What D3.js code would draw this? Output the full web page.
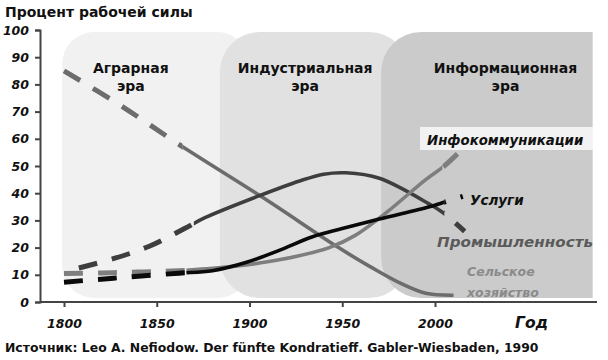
<!DOCTYPE html>
<html>
<head>
<meta charset="utf-8">
<script src="https://cdn.jsdelivr.net/npm/d3@7"></script>
<style>
  body { margin: 0; background: #fff; }
  svg { display: block; font-family: "DejaVu Sans", sans-serif; }
</style>
</head>
<body>
<svg width="608" height="360"></svg>
<script>
// eras (years covered by the shaded blocks)
const eraNames = [["Аграрная", "эра"], ["Индустриальная", "эра"], ["Информационная", "эра"]];
const eraStart = [1799, 1884, 1971];
const eraEnd = [1900, 1986, 2085];
const eraLabelYear = [1836, 1930, 2038];

// series: percent of work force
const agriYears = [1800, 1830, 1863, 1907, 1948, 1965, 1981, 1995, 2010];
const agriValues = [85, 72.5, 57.5, 38.5, 20, 13, 7, 3.2, 2.5];

const indYears = [1808, 1827, 1846, 1865, 1876, 1905, 1927, 1940, 1952, 1970, 1997, 2004, 2016];
const indValues = [12.5, 16, 20.5, 27, 31, 39, 44.5, 47, 47.5, 45.5, 36, 33, 26];

const servYears = [1800, 1820, 1840, 1862, 1880, 1898, 1916, 1934, 1950, 1970, 1997, 2004, 2015];
const servValues = [7.3, 8.4, 9.5, 10.6, 11.5, 14.5, 19, 24, 27, 30.5, 35, 36.5, 38.8];

const infoYears = [1800, 1820, 1840, 1862, 1890, 1916, 1943, 1957, 1974, 1995, 2005, 2016];
const infoValues = [10.5, 10.7, 11, 11.5, 13, 15.5, 20, 24.5, 33, 45, 50, 57];

const yTicks = [0, 10, 20, 30, 40, 50, 60, 70, 80, 90, 100];
const xTicks = [1800, 1850, 1900, 1950, 2000];

const series = [
  {name: "agri", years: agriYears, values: agriValues, solidFrom: 1864, solidTo: 2100, color: "#6c6c6c"},
  {name: "ind", years: indYears, values: indValues, solidFrom: 1870, solidTo: 2005, color: "#3e3e3e"},
  {name: "info", years: infoYears, values: infoValues, solidFrom: 1866, solidTo: 2004, color: "#7e7e7e"},
  {name: "serv", years: servYears, values: servValues, solidFrom: 1866, solidTo: 2005, color: "#0a0a0a"}
];

const svg = d3.select("svg");
const x = d3.scaleLinear().domain([1800, 2000]).range([64, 435]);
const y = d3.scaleLinear().domain([0, 100]).range([302, 30]);

// era blocks
const eraFill = ["#f1f1f1", "#e1e1e1", "#cbcbcb"];
const eraG = svg.append("g");
eraStart.forEach(function(s, i) {
  const x0 = x(s), x1 = Math.min(x(eraEnd[i]), 593);
  const y0 = 32, y1 = 298, r = i == 0 ? 32 : 40;
  if (i < 2) {
    eraG.append("rect").attr("x", x0).attr("y", y0).attr("width", x(eraEnd[i]) - x0)
      .attr("height", y1 - y0).attr("rx", r).attr("fill", eraFill[i]);
  } else {
    // right side is square
    const p = "M" + (x0 + r) + "," + y0 + "H" + x1 + "V" + y1 + "H" + (x0 + r)
      + "A" + r + "," + r + " 0 0 1 " + x0 + "," + (y1 - r)
      + "V" + (y0 + r) + "A" + r + "," + r + " 0 0 1 " + (x0 + r) + "," + y0 + "Z";
    eraG.append("path").attr("d", p).attr("fill", eraFill[i]);
  }
});

eraNames.forEach(function(n, i) {
  const t = svg.append("text").attr("x", x(eraLabelYear[i])).attr("y", 73)
    .attr("text-anchor", "middle").attr("font-weight", "bold").attr("font-size", 14).attr("fill", "#111");
  t.append("tspan").attr("x", x(eraLabelYear[i])).text(n[0]);
  t.append("tspan").attr("x", x(eraLabelYear[i])).attr("dy", 18).text(n[1]);
});

// axes
const yAxis = svg.append("g").attr("transform", "translate(40,0)")
  .call(d3.axisLeft(y).tickValues(yTicks).tickSize(5).tickSizeOuter(5).tickPadding(6));
yAxis.select(".domain").attr("stroke", "#444").attr("stroke-width", 2);
yAxis.selectAll(".tick line").attr("stroke", "#444").attr("stroke-width", 2);
yAxis.selectAll(".tick text").attr("font-family", "DejaVu Sans").attr("font-size", 12.5)
  .attr("font-weight", "bold").attr("font-style", "italic").attr("fill", "#111");

const xAxis = svg.append("g").attr("transform", "translate(0,302)")
  .call(d3.axisBottom(x).tickValues(xTicks).tickFormat(d3.format("d")).tickSize(5).tickSizeOuter(0).tickPadding(12));
xAxis.select(".domain").remove();
xAxis.append("line").attr("x1", 40).attr("x2", 597).attr("stroke", "#444").attr("stroke-width", 2);
xAxis.selectAll(".tick line").attr("stroke", "#444").attr("stroke-width", 2);
xAxis.selectAll(".tick text").attr("font-family", "DejaVu Sans").attr("font-size", 12.5)
  .attr("font-weight", "bold").attr("font-style", "italic").attr("fill", "#111");

// lines: dashed where the data is projected, solid in between
const defs = svg.append("defs");
const line = d3.line().x(d => x(d[0])).y(d => y(d[1])).curve(d3.curveCatmullRom.alpha(0.5));
series.forEach(function(s) {
  const pts = s.years.map((yr, i) => [yr, s.values[i]]);
  const xs = x(s.solidFrom), xe = x(s.solidTo);
  defs.append("clipPath").attr("id", "solid-" + s.name)
    .append("rect").attr("x", xs).attr("y", 0).attr("width", xe - xs).attr("height", 360);
  const cd = defs.append("clipPath").attr("id", "dash-" + s.name);
  cd.append("rect").attr("x", 0).attr("y", 0).attr("width", xs).attr("height", 360);
  cd.append("rect").attr("x", xe).attr("y", 0).attr("width", 608 - xe).attr("height", 360);
  svg.append("path").datum(pts).attr("d", line).attr("fill", "none")
    .attr("stroke", s.color).attr("stroke-width", 3.6).attr("clip-path", "url(#solid-" + s.name + ")");
  svg.append("path").datum(pts).attr("d", line).attr("fill", "none")
    .attr("stroke", s.color).attr("stroke-width", 5).attr("stroke-dasharray", "19,15")
    .attr("clip-path", "url(#dash-" + s.name + ")");
});

// series labels
svg.append("rect").attr("x", 420).attr("y", 127).attr("width", 173).attr("height", 23)
  .attr("fill", "#f5f5f5").attr("opacity", 0.92);
function label(txt, lx, ly, col, size) {
  return svg.append("text").attr("x", lx).attr("y", ly).attr("font-weight", "bold")
    .attr("font-style", "italic").attr("font-size", size).attr("fill", col).text(txt);
}
label("Инфокоммуникации", 427, 145, "#111", 13.3);
label("Услуги", 470, 205, "#111", 13.5);
label("Промышленность", 437, 247, "#5a5a5a", 13.8).attr("textLength", 156).attr("lengthAdjust", "spacingAndGlyphs");
label("Сельское", 467, 276, "#8a8a8a", 12.5);
label("хозяйство", 467, 297, "#8a8a8a", 12.5);

// titles
svg.append("text").attr("x", 5).attr("y", 17).attr("font-weight", "bold").attr("font-size", 14)
  .attr("fill", "#111").text("Процент рабочей силы");
label("Год", 515, 328, "#111", 15.5);
svg.append("text").attr("x", 5).attr("y", 352).attr("font-weight", "bold").attr("font-size", 12.4)
  .attr("fill", "#111").text("Источник: Leo A. Nefiodow. Der fünfte Kondratieff. Gabler-Wiesbaden, 1990");
</script>
</body>
</html>
